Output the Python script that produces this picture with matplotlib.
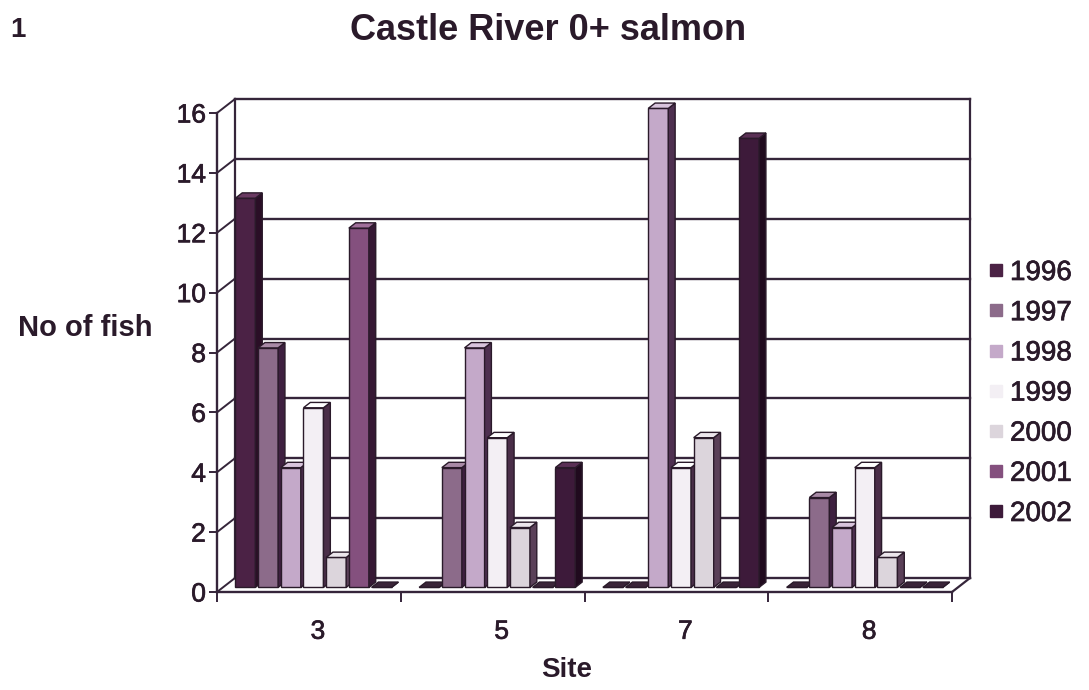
import numpy as np
import matplotlib.pyplot as plt
import matplotlib.patheffects as pe
from matplotlib.patches import Polygon
from matplotlib.lines import Line2D

plt.rcParams['font.family'] = ['Liberation Sans', 'DejaVu Sans']

sites = ['3', '5', '7', '8']
years = ['1996', '1997', '1998', '1999', '2000', '2001', '2002']
fish_1996 = [13, 0, 0, 0]
fish_1997 = [8, 4, 0, 3]
fish_1998 = [4, 8, 16, 2]
fish_1999 = [6, 5, 4, 4]
fish_2000 = [1, 2, 5, 1]
fish_2001 = [12, 0, 0, 0]
fish_2002 = [0, 4, 15, 0]
yticks = [0, 2, 4, 6, 8, 10, 12, 14, 16]

series = [fish_1996, fish_1997, fish_1998, fish_1999, fish_2000, fish_2001, fish_2002]
colors = ['#4b2245', '#8c6b8a', '#c4a9c9', '#f3eff4', '#dcd5dc', '#84507e', '#3d1a3a']
sides = ['#2a0e26', '#3e2040', '#4e3050', '#4a2e48', '#5a4058', '#361834', '#200a1e']
tops = ['#6a3a62', '#a88aa6', '#d8c4dc', '#ffffff', '#ece6ec', '#a0709a', '#5a3055']
ink = '#2a1a2a'
gridc = '#35253a'

W, H = 1089, 690
fig = plt.figure(figsize=(W / 100, H / 100), dpi=100)
ax = fig.add_axes([217 / W, (H - 592) / H, 735 / W, 479 / H])
ax.set_xlim(0, 4)
ax.set_ylim(0, 16)

# pseudo 3d depth of the chart box
dx, dy = 18 / 183.75, 14 / 29.94
# bar layout inside one site
pitch = 0.1235
bw = 0.109
d0, bd = 0.33, 0.38
margin = (1 - 7 * pitch) / 2

# back wall and side wall gridlines
for v in yticks:
    ax.plot([dx, 4 + dx], [v + dy, v + dy], color=gridc, lw=1.7, clip_on=False, zorder=1)
    ax.plot([0, dx], [v, v + dy], color=gridc, lw=1.4, clip_on=False, zorder=1)
ax.plot([dx, dx], [dy, 16 + dy], color=gridc, lw=1.6, clip_on=False, zorder=1)
ax.plot([4 + dx, 4 + dx], [dy, 16 + dy], color=gridc, lw=1.6, clip_on=False, zorder=1)
ax.plot([4, 4 + dx], [0, dy], color=gridc, lw=1.6, clip_on=False, zorder=1)

base = d0 * dy
for j, vals in enumerate(series):
    x0 = np.arange(len(sites)) + margin + j * pitch + d0 * dx
    z = 3 + j
    ax.bar(x0, vals, width=bw, bottom=base, align='edge', color=colors[j],
           edgecolor=ink, linewidth=1.0, zorder=z, clip_on=False)
    for xi, v in zip(x0, vals):
        ox, oy = bd * dx, bd * dy
        side = [(xi + bw, base), (xi + bw + ox, base + oy),
                (xi + bw + ox, base + v + oy), (xi + bw, base + v)]
        top = [(xi, base + v), (xi + bw, base + v),
               (xi + bw + ox, base + v + oy), (xi + ox, base + v + oy)]
        ax.add_patch(Polygon(side, closed=True, facecolor=sides[j], edgecolor=ink,
                             lw=1.0, zorder=z, clip_on=False))
        ax.add_patch(Polygon(top, closed=True,
                             facecolor=tops[j] if v > 0 else '#3a2438',
                             edgecolor=ink, lw=1.0, zorder=z, clip_on=False))

for s in ['top', 'right']:
    ax.spines[s].set_visible(False)
for s in ['left', 'bottom']:
    ax.spines[s].set_color(gridc)
    ax.spines[s].set_linewidth(1.7)
ax.set_facecolor('none')

thick = [pe.withStroke(linewidth=0.5, foreground=ink)]

ax.set_yticks(yticks)
ax.tick_params(axis='y', length=6, width=1.4, color=gridc, pad=2,
               labelsize=19, labelcolor=ink)
ax.set_xticks([0, 1, 2, 3, 4])
ax.set_xticklabels([])
ax.set_xticks(np.arange(len(sites)) + 0.5 + dx / 2, minor=True)
ax.set_xticklabels(sites, minor=True)
ax.tick_params(axis='x', which='major', length=7, width=1.4, color=gridc)
ax.tick_params(axis='x', which='minor', length=0, pad=20, labelsize=19, labelcolor=ink)
for t in ax.get_yticklabels() + ax.get_xticklabels(minor=True):
    t.set_path_effects(thick)

ax.set_xlabel('Site', fontsize=20, fontweight='bold', color=ink)
ax.xaxis.set_label_coords(0.476, -0.135)

fig.text(548 / W, 1 - 30 / H, 'Castle River 0+ salmon', ha='center', va='center',
         fontsize=26, fontweight='bold', color=ink)
fig.text(18 / W, 1 - 30 / H, '1', ha='center', va='center',
         fontsize=20, fontweight='bold', color=ink)
fig.text(85 / W, 1 - 328 / H, 'No of fish', ha='center', va='center',
         fontsize=21, fontweight='bold', color=ink)

handles = [Line2D([], [], marker='s', linestyle='', markersize=9, color=c,
                  markeredgecolor=c) for c in colors]
leg = fig.legend(handles, years, loc='upper left', bbox_to_anchor=(985 / W, 1 - 260 / H),
                 frameon=False, fontsize=20, handletextpad=0.1, handlelength=0.8,
                 labelspacing=0.51, borderaxespad=0, borderpad=0, labelcolor=ink)
for t in leg.get_texts():
    t.set_path_effects(thick)

fig.savefig('out.png', dpi=100, facecolor='white')
